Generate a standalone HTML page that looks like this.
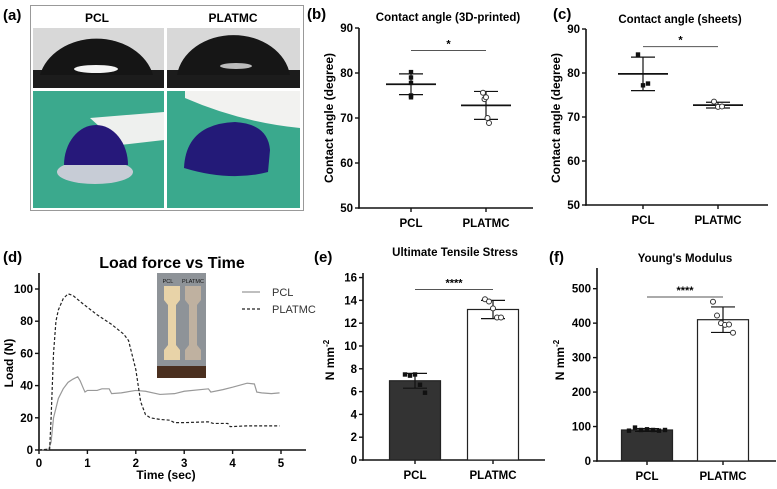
<!DOCTYPE html>
<html><head><meta charset="utf-8"><style>
body{margin:0;background:#fff}
svg{display:block;font-family:"Liberation Sans",Arial,sans-serif}
</style></head><body>
<svg id="fig" width="777" height="489" viewBox="0 0 777 489">
<g>
<text x="3" y="20" font-size="15" font-weight="bold">(a)</text>
<rect x="30.5" y="5.5" width="273" height="205" fill="#fff" stroke="#999"/>
<text x="97" y="22" font-size="12" font-weight="bold" text-anchor="middle">PCL</text>
<text x="233" y="22" font-size="12" font-weight="bold" text-anchor="middle">PLATMC</text>
<g>
<rect x="33" y="28" width="131" height="60" fill="#d8d8d8"/>
<rect x="33" y="70" width="131" height="18" fill="#1c1c1c"/>
<path d="M40 75 A58 47 0 0 1 153 75 Z" fill="#151515"/>
<ellipse cx="96" cy="69" rx="22" ry="4" fill="#f4f4f4"/>
</g>
<g>
<rect x="167" y="28" width="133" height="60" fill="#d8d8d8"/>
<rect x="167" y="70" width="133" height="18" fill="#1c1c1c"/>
<path d="M177 75 A57 46 0 0 1 290 75 Z" fill="#161616"/>
<ellipse cx="236" cy="66" rx="16" ry="3" fill="#bbb"/>
</g>
<g>
<rect x="33" y="91" width="131" height="117" fill="#3ba98d"/>
<path d="M90 118 L164 112 L164 140 L120 145 Z" fill="#eef0ee"/>
<ellipse cx="95" cy="172" rx="38" ry="12" fill="#c7ccd6"/>
<path d="M64 165 A32 40 0 0 1 128 165 Z" fill="#26187a"/>
</g>
<g>
<rect x="167" y="91" width="133" height="117" fill="#3aa98d"/>
<path d="M185 91 L300 91 L300 128 Q240 122 185 98 Z" fill="#f2f2f0"/>
<path d="M184 168 Q186 124 235 122 Q268 124 270 150 L268 172 Q230 182 184 168 Z" fill="#231a78"/>
</g>
</g>
</svg>
<script>
const NS="http://www.w3.org/2000/svg";
const svg=document.getElementById('fig');
function mk(tag,attrs,parent,txt){const e=document.createElementNS(NS,tag);for(const k in attrs)e.setAttribute(k,attrs[k]);if(txt!==undefined)e.textContent=txt;(parent||svg).appendChild(e);return e;}

// ---- panel b data ----
const bCats=["PCL","PLATMC"];
const bMeans=[77.5,72.8];
const bSD=[2.3,3.1];
const bPtsPCL=[80.2,79.0,77.8,75.0,74.6];
const bPtsPLATMC=[75.6,74.2,74.6,70.0,68.9];
const bTicks=[50,60,70,80,90];
// ---- panel c data ----
const cCats=["PCL","PLATMC"];
const cMeans=[79.8,72.7];
const cSD=[3.8,0.65];
const cPtsPCL=[84.2,77.2,77.6];
const cPtsPLATMC=[73.5,72.3,72.4];
const cTicks=[50,60,70,80,90];
// ---- panel d data ----
const dTime=[0,0.2,0.25,0.3,0.4,0.5,0.6,0.7,0.8,0.85,0.92,0.95,1.0,1.2,1.3,1.45,1.5,1.7,2.0,2.2,2.5,2.8,3.0,3.5,3.55,3.8,4.0,4.3,4.45,4.5,4.6,4.8,4.97];
const dPCL=[0,0.5,5,20,32,38,42,44,45.5,43,38,36,37,37,38,38,35,35.5,37,36.5,34.5,35,36.5,38,36,37.5,39,41.5,41,36,35.5,35,35.5];
const dTime2=[0,0.22,0.25,0.3,0.35,0.4,0.5,0.6,0.7,0.9,1.2,1.5,1.75,1.85,2.0,2.1,2.2,2.3,2.5,2.7,2.8,3.0,3.5,3.6,3.9,3.95,4.3,4.97];
const dPLATMC=[0,0.5,20,60,80,87,94,97,96,91,84,78,72,68,50,30,22,20,19,18.5,17,17,17.5,16.5,16.5,14.5,15,15];
const dXTicks=[0,1,2,3,4,5];
const dYTicks=[0,20,40,60,80,100];
// ---- panel e data ----
const eCats=["PCL","PLATMC"];
const eMeans=[6.95,13.2];
const eSD=[0.65,0.8];
const ePtsPCL=[7.5,7.4,7.5,6.6,5.9];
const ePtsPLATMC=[14.1,13.9,13.3,12.5,12.5];
const eTicks=[0,2,4,6,8,10,12,14,16];
// ---- panel f data ----
const fCats=["PCL","PLATMC"];
const fMeans=[90,410];
const fSD=[4,37];
const fPtsPCL=[88,97,90,92,90,88,90];
const fPtsPLATMC=[462,422,400,395,396,372];
const fTicks=[0,100,200,300,400,500];

function axisFrame(g,o){
  const y=v=>o.yBot-(v-o.vmin)/(o.vmax-o.vmin)*(o.yBot-o.yTop);
  mk('line',{x1:o.x0,y1:o.yTop,x2:o.x0,y2:o.yBot+0.8,stroke:'#111','stroke-width':1.6},g);
  mk('line',{x1:o.x0-0.8,y1:o.yBot,x2:o.x1,y2:o.yBot,stroke:'#111','stroke-width':1.6},g);
  o.ticks.forEach(t=>{
    mk('line',{x1:o.x0-4,y1:y(t),x2:o.x0,y2:y(t),stroke:'#111','stroke-width':1.4},g);
    const tl=mk('text',{x:o.x0-6,y:y(t)+4,'font-size':11.5,'font-weight':'bold','text-anchor':'end'},g,t);
    
    
  });
  o.cats.forEach((c,i)=>{
    mk('line',{x1:o.catX[i],y1:o.yBot,x2:o.catX[i],y2:o.yBot+4,stroke:'#111','stroke-width':1.4},g);
    const cl=mk('text',{x:o.catX[i],y:o.yBot+19,'font-size':11.5,'font-weight':'bold','text-anchor':'middle'},g,c);
    
    
  });
  return y;
}
function panelText(g,lbl,lx,ly,title,tx,ty,tsize){
  const a=mk('text',{x:lx,y:ly,'font-size':15,'font-weight':'bold'},g,lbl);
  
  
  const t=mk('text',{x:tx,y:ty,'font-size':tsize||11.5,'font-weight':'bold','text-anchor':'middle'},g,title);
  
  
  return t;
}
function yLabel(g,x,y,txt,sup){
  const t=mk('text',{x:0,y:0,'font-size':12,'font-weight':'bold','text-anchor':'middle',transform:`translate(${x},${y}) rotate(-90)`},g,txt);
  
  
  if(sup){mk('tspan',{'font-size':8,dy:-5},t,sup);}
}
function errBar(g,cx,y,m,sd,w){
  mk('line',{x1:cx,y1:y(m+sd),x2:cx,y2:y(m-sd),stroke:'#111','stroke-width':1.2},g);
  mk('line',{x1:cx-w,y1:y(m+sd),x2:cx+w,y2:y(m+sd),stroke:'#111','stroke-width':1.2},g);
  mk('line',{x1:cx-w,y1:y(m-sd),x2:cx+w,y2:y(m-sd),stroke:'#111','stroke-width':1.2},g);
}
function points(g,cx,y,pts,filled,name,spread){
  pts.forEach((v,i)=>{
    const off=(i-(pts.length-1)/2)*spread;
    let p;
    if(filled){p=mk('rect',{x:cx+off-2.2,y:y(v)-2.2,width:4.4,height:4.4,fill:'#111'},g);}
    else{p=mk('circle',{cx:cx+off,cy:y(v),r:2.5,fill:'#fff',stroke:'#333','stroke-width':1},g);}
    
    
  });
}
function sig(g,x1,x2,yy,stars){
  mk('line',{x1:x1,y1:yy,x2:x2,y2:yy,stroke:'#555','stroke-width':1},g);
  const s=mk('text',{x:(x1+x2)/2,y:yy-3,'font-size':11,'font-weight':'bold','text-anchor':'middle'},g,stars);
  
  
}

// ---- panel b ----
(function(){
  const g=mk('g',{});
  panelText(g,'(b)',307,19,'Contact angle (3D-printed)',448,21,11.5);
  yLabel(g,333,118,'Contact angle (degree)');
  const cx=[411,486];
  const y=axisFrame(g,{x0:359,x1:533,yTop:28,yBot:208,vmin:50,vmax:90,ticks:bTicks,catX:cx,cats:bCats});
  bMeans.forEach((m,i)=>{mk('line',{x1:cx[i]-25,y1:y(m),x2:cx[i]+25,y2:y(m),stroke:'#111','stroke-width':1.8},g);errBar(g,cx[i],y,m,bSD[i],12);});
  points(g,cx[0],y,bPtsPCL,true,'point-pcl',0);
  points(g,cx[1],y,bPtsPLATMC,false,'point-platmc',1.5);
  sig(g,411,486,y(85),'*');
})();
// ---- panel c ----
(function(){
  const g=mk('g',{});
  panelText(g,'(c)',553,19,'Contact angle (sheets)',680,23,11.5);
  yLabel(g,560,118,'Contact angle (degree)');
  const cx=[643,718];
  const y=axisFrame(g,{x0:586,x1:768,yTop:29,yBot:205,vmin:50,vmax:90,ticks:cTicks,catX:cx,cats:cCats});
  cMeans.forEach((m,i)=>{mk('line',{x1:cx[i]-25,y1:y(m),x2:cx[i]+25,y2:y(m),stroke:'#111','stroke-width':1.8},g);errBar(g,cx[i],y,m,cSD[i],12);});
  points(g,cx[0],y,cPtsPCL,true,'point-pcl',5);
  points(g,cx[1],y,cPtsPLATMC,false,'point-platmc',4);
  sig(g,643,718,y(86),'*');
})();
// ---- panel d ----
(function(){
  const g=mk('g',{});
  panelText(g,'(d)',3,262,'Load force vs Time',172,268,16);
  const x0=39,xs=48.4,yb=450,ys=(450-289)/100;
  const X=t=>x0+t*xs, Y=v=>yb-v*ys;
  mk('line',{x1:x0,y1:273,x2:x0,y2:yb+0.8,stroke:'#111','stroke-width':1.6},g);
  mk('line',{x1:x0-0.8,y1:yb,x2:306,y2:yb,stroke:'#111','stroke-width':1.6},g);
  dYTicks.forEach(t=>{mk('line',{x1:x0-4,y1:Y(t),x2:x0,y2:Y(t),stroke:'#111','stroke-width':1.4},g);
    const l=mk('text',{x:x0-6,y:Y(t)+4,'font-size':11.5,'font-weight':'bold','text-anchor':'end'},g,t);
    
    });
  dXTicks.forEach(t=>{mk('line',{x1:X(t),y1:yb,x2:X(t),y2:yb+4,stroke:'#111','stroke-width':1.4},g);
    const l=mk('text',{x:X(t),y:yb+17,'font-size':11.5,'font-weight':'bold','text-anchor':'middle'},g,t);
    
    });
  const xt=mk('text',{x:166,y:479,'font-size':12,'font-weight':'bold','text-anchor':'middle'},g,'Time (sec)');
  
  
  yLabel(g,13,363,'Load (N)');
  const p1=mk('polyline',{points:dTime.map((t,i)=>X(t)+','+Y(dPCL[i])).join(' '),fill:'none',stroke:'#999','stroke-width':1.2},g);
  
  
  const p2=mk('polyline',{points:dTime2.map((t,i)=>X(t)+','+Y(dPLATMC[i])).join(' '),fill:'none',stroke:'#222','stroke-width':1.2,'stroke-dasharray':'3,2'},g);
  
  
  const ins=mk('g',{},g);
  mk('rect',{x:157,y:273,width:49,height:105,fill:'#8e9398'},ins);
  mk('rect',{x:157,y:366,width:49,height:12,fill:'#4a2f1f'},ins);
  mk('path',{d:'M164 286 h16 v14 l-4 5 v40 l4 5 v10 h-16 v-10 l4 -5 v-40 l-4 -5 z',fill:'#e8d3a8'},ins);
  mk('path',{d:'M185 286 h16 v14 l-4 5 v40 l4 5 v10 h-16 v-10 l4 -5 v-40 l-4 -5 z',fill:'#bfb1a0'},ins);
  mk('text',{x:168,y:283,'font-size':5.5,'text-anchor':'middle',fill:'#111'},ins,'PCL');
  mk('text',{x:193,y:283,'font-size':5.5,'text-anchor':'middle',fill:'#111'},ins,'PLATMC');
  const lg=mk('g',{},g);
  mk('line',{x1:242,y1:292,x2:260,y2:292,stroke:'#999','stroke-width':1.2},lg);
  mk('text',{x:272,y:296,'font-size':11,fill:'#333'},lg,'PCL');
  mk('line',{x1:242,y1:309,x2:260,y2:309,stroke:'#222','stroke-width':1.2,'stroke-dasharray':'3,2'},lg);
  mk('text',{x:272,y:313,'font-size':11,fill:'#333'},lg,'PLATMC');
})();
function barPanel(name,lbl,lx,title,tx,ty,x0,x1,yTop,yBot,vmax,ticks,cats,cx,bw,means,sds,p1,p2,sigV,ylx,s1,s2){
  const g=mk('g',{});
  panelText(g,lbl,lx,262,title,tx,ty,11.5);
  yLabel(g,ylx,360,'N mm','-2');
  const y=axisFrame(g,{x0:x0,x1:x1,yTop:yTop,yBot:yBot,vmin:0,vmax:vmax,ticks:ticks,catX:cx,cats:cats});
  means.forEach((m,i)=>{
    const b=mk('rect',{x:cx[i]-bw/2,y:y(m),width:bw,height:yBot-y(m),fill:i==0?'#333':'#fff',stroke:'#222','stroke-width':1.2},g);
    
    
    errBar(g,cx[i],y,m,sds[i],12);
  });
  points(g,cx[0],y,p1,true,'point-pcl',s1);
  points(g,cx[1],y,p2,false,'point-platmc',s2);
  sig(g,cx[0],cx[1],y(sigV),'****');
}
barPanel('panel-e-ultimate-tensile-stress','(e)',314,'Ultimate Tensile Stress',455,256,363,545,273,460,16.4,eTicks,eCats,[415,493],51,eMeans,eSD,ePtsPCL,ePtsPLATMC,14.95,334,5,4);
barPanel('panel-f-youngs-modulus','(f)',549,"Young's Modulus",685,262,597,776,268,461,560,fTicks,fCats,[647,723],51,fMeans,fSD,fPtsPCL,fPtsPLATMC,476,564,6,4);
</script>
</body></html>
